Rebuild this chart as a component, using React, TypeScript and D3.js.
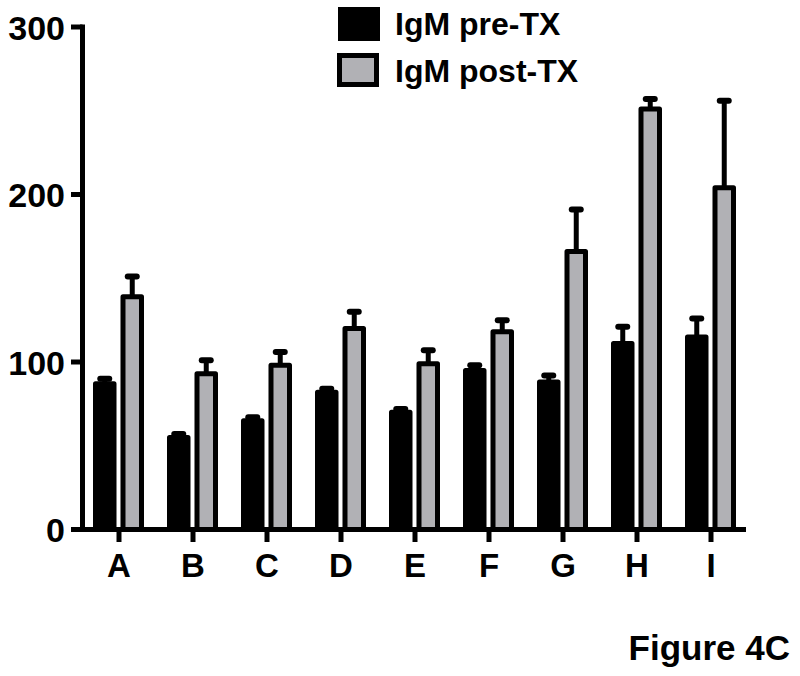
import React from "react";
import * as d3 from "d3";

const categories = ["A", "B", "C", "D", "E", "F", "G", "H", "I"];
const preValues = [87, 55, 65, 82, 70, 95, 88, 111, 115];
const preErrors = [3, 2, 2, 2, 2, 3, 4, 10, 11];
const postValues = [139, 93, 98, 120, 99, 118, 166, 251, 204];
const postErrors = [12, 8, 8, 10, 8, 7, 25, 6, 52];
const yTicks = [0, 100, 200, 300];
const seriesNames = ["IgM pre-TX", "IgM post-TX"];

const FONT = "'Liberation Sans', Arial, Helvetica, sans-serif";
const GRAY = "#b1b1b5";

export default function App() {
  const W = 800, H = 676;
  const x0 = 82.5, xEnd = 746, y0 = 529.5;
  const y = d3.scaleLinear().domain([0, 300]).range([y0, 27]);
  const x = d3.scaleBand<string>().domain(categories).range([82, 748]).padding(0);
  const sub = d3.scaleBand<string>().domain(["pre", "post"]).range([-26, 25]).paddingInner(0.145).paddingOuter(0);
  const sw = 5;
  const bw = sub.bandwidth();

  const series = [
    { key: "pre", values: preValues, errors: preErrors, fill: "#000" },
    { key: "post", values: postValues, errors: postErrors, fill: GRAY },
  ];

  return (
    <svg width={W} height={H} style={{ position: "absolute", left: 0, top: 0, background: "#fff" }}>
      {/* bars */}
      {categories.map((c, i) => {
        const cx = (x(c) as number) + x.bandwidth() / 2;
        return (
          <g key={c}>
            {series.map((s) => {
              const left = cx + (sub(s.key) as number);
              const bx = left + sw / 2;
              const w = bw - sw;
              const v = s.values[i];
              const e = s.errors[i];
              const mid = left + bw / 2;
              return (
                <g key={s.key}>
                  <line x1={mid} x2={mid} y1={y(v)} y2={y(v + e)} stroke="#000" strokeWidth={5} />
                  <line x1={mid - 4.5} x2={mid + 4.5} y1={y(v + e)} y2={y(v + e)} stroke="#000" strokeWidth={6} strokeLinecap="round" />
                  <rect x={bx} y={y(v)} width={w} height={y0 - y(v)} fill={s.fill} stroke="#000" strokeWidth={sw} strokeLinejoin="round" />
                </g>
              );
            })}
          </g>
        );
      })}
      {/* y axis */}
      <line x1={x0} x2={x0} y1={y(0)} y2={y(300) - 2.5} stroke="#000" strokeWidth={5} />
      {yTicks.map((t) => (
        <g key={t}>
          <line x1={71} x2={x0} y1={y(t)} y2={y(t)} stroke="#000" strokeWidth={5} />
          <text x={65} y={y(t) + 12.5} textAnchor="end" fontFamily={FONT} fontWeight="bold" fontSize={34} fill="#000">
            {t}
          </text>
        </g>
      ))}
      {/* x axis */}
      <line x1={x0 - 2.5} x2={xEnd} y1={y0} y2={y0} stroke="#000" strokeWidth={5} />
      {categories.map((c) => {
        const cx = (x(c) as number) + x.bandwidth() / 2;
        return (
          <g key={c}>
            <line x1={cx} x2={cx} y1={y0} y2={542} stroke="#000" strokeWidth={5} />
            <text x={cx} y={577} textAnchor="middle" fontFamily={FONT} fontWeight="bold" fontSize={33} fill="#000">
              {c}
            </text>
          </g>
        );
      })}
      {/* legend */}
      <rect x={338} y={7} width={42} height={34} fill="#000" />
      <text x={395} y={35} fontFamily={FONT} fontWeight="bold" fontSize={32} fill="#000">{seriesNames[0]}</text>
      <rect x={339.5} y={55.5} width={37} height={29} fill={GRAY} stroke="#000" strokeWidth={5} />
      <text x={395} y={82} fontFamily={FONT} fontWeight="bold" fontSize={32} fill="#000">{seriesNames[1]}</text>
      {/* figure label */}
      <text x={790} y={660} textAnchor="end" fontFamily={FONT} fontWeight="bold" fontSize={35} fill="#000">Figure 4C</text>
    </svg>
  );
}
